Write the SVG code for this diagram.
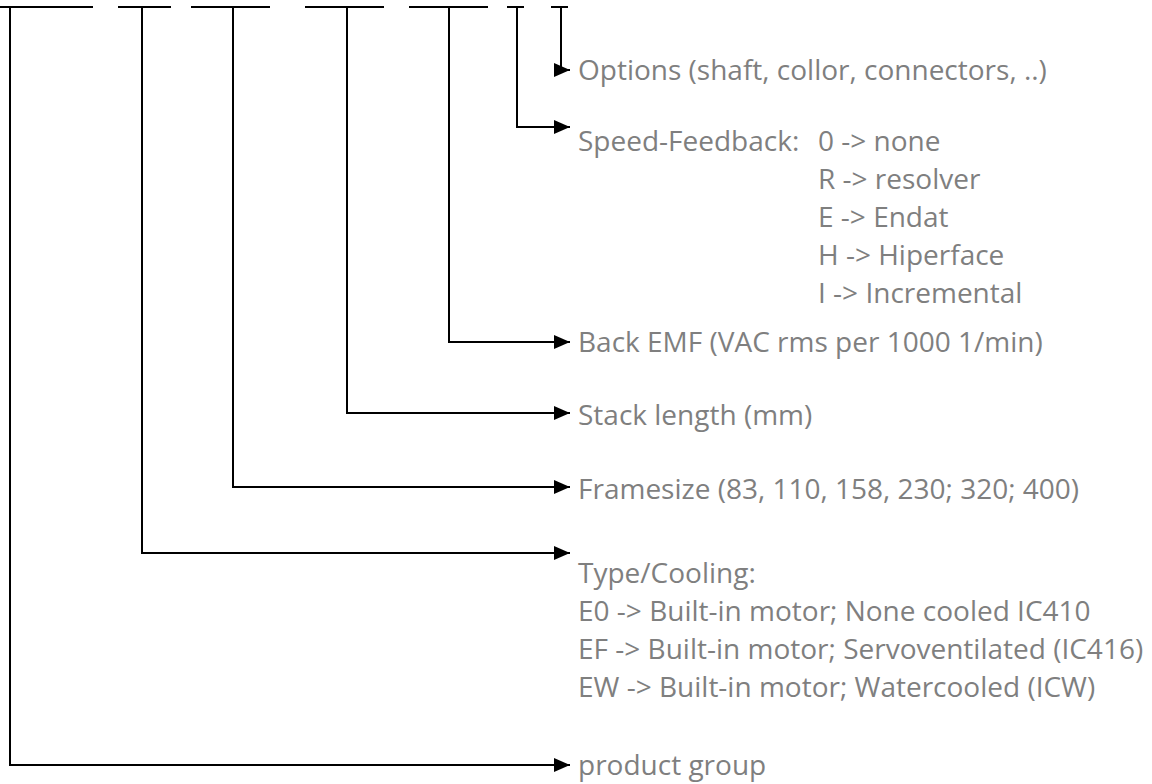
<svg xmlns="http://www.w3.org/2000/svg" width="1152" height="784" viewBox="0 0 1152 784">
<defs>
<marker id="arr" viewBox="0 0 16 14" refX="16" refY="7" markerWidth="16" markerHeight="14" markerUnits="userSpaceOnUse" orient="auto">
<path d="M0,0 L16,7 L0,14 Z" fill="#000"/>
</marker>
<style>
.ln{stroke:#000;stroke-width:2;fill:none}
.t{font-family:"Open Sans","Noto Sans","Liberation Sans",sans-serif;font-size:28px;fill:#7f7f7f}
</style>
</defs>
<rect width="1152" height="784" fill="#fff"/>
<g id="code">
<path class="ln" d="M0,7H93M118,7H171M191,7H270M305,7H384M409,7H488M507,7H524M551,7H568"/>
</g>
<g id="connectors">
<path class="ln" marker-end="url(#arr)" d="M561,7V70H570"/>
<path class="ln" marker-end="url(#arr)" d="M517,7V127H570"/>
<path class="ln" marker-end="url(#arr)" d="M449,7V342H570"/>
<path class="ln" marker-end="url(#arr)" d="M347,7V413H570"/>
<path class="ln" marker-end="url(#arr)" d="M233,7V487H570"/>
<path class="ln" marker-end="url(#arr)" d="M142,7V553H570"/>
<path class="ln" marker-end="url(#arr)" d="M10,7V765H570"/>
</g>
<g id="options"><text class="t" x="578" y="80">Options (shaft, collor, connectors, ..)</text></g>
<g id="speed">
<text class="t" x="578" y="151">Speed-Feedback:</text>
<text class="t" x="818" y="151">0 -&gt; none</text>
<text class="t" x="818" y="189">R -&gt; resolver</text>
<text class="t" x="818" y="227">E -&gt; Endat</text>
<text class="t" x="818" y="265">H -&gt; Hiperface</text>
<text class="t" x="818" y="303">I -&gt; Incremental</text>
</g>
<g id="backemf"><text class="t" x="578" y="352">Back EMF (VAC rms per 1000 1/min)</text></g>
<g id="stack"><text class="t" x="578" y="425">Stack length (mm)</text></g>
<g id="frame"><text class="t" x="578" y="499">Framesize (83, 110, 158, 230; 320; 400)</text></g>
<g id="type">
<text class="t" x="578" y="583">Type/Cooling:</text>
<text class="t" x="578" y="621">E0 -&gt; Built-in motor; None cooled IC410</text>
<text class="t" x="578" y="659">EF -&gt; Built-in motor; Servoventilated (IC416)</text>
<text class="t" x="578" y="697">EW -&gt; Built-in motor; Watercooled (ICW)</text>
</g>
<g id="product"><text class="t" x="578" y="775">product group</text></g>
</svg>
